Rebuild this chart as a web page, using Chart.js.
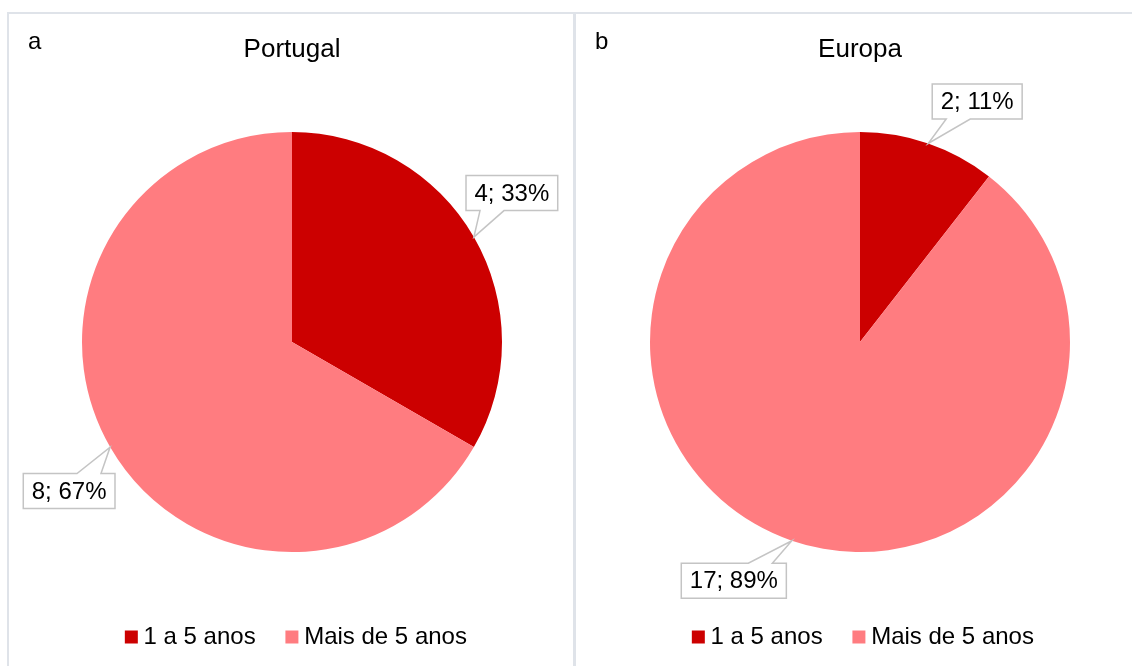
<!DOCTYPE html>
<html>
<head>
<meta charset="utf-8">
<script src="https://cdn.jsdelivr.net/npm/chart.js@4.4.1/dist/chart.umd.min.js"></script>
<style>
  html,body{margin:0;padding:0;background:#fff;width:1132px;height:666px;overflow:hidden;}
  .line{position:absolute;background:#dfe3e9;}
  .panel{position:absolute;top:14px;height:652px;}
</style>
</head>
<body>
<div class="line" style="left:7px;top:12px;width:1125px;height:2px"></div>
<div class="line" style="left:7px;top:12px;width:2px;height:654px"></div>
<div class="line" style="left:573px;top:12px;width:3px;height:654px"></div>
<div class="panel" style="left:9px;width:564px"><canvas id="chartA" width="564" height="652"></canvas></div>
<div class="panel" style="left:576px;width:556px"><canvas id="chartB" width="556" height="652"></canvas></div>
<script>
// ── data ──────────────────────────────────────────────
const categories   = ['1 a 5 anos', 'Mais de 5 anos'];
const portugalVals = [4, 8];
const europaVals   = [2, 17];
const sliceColors  = ['#cc0000', '#ff7c80'];

const FONT = 'Liberation Sans, Arial, Helvetica, sans-serif';

// callout labels "n; p%" with a pointer to the rim
const calloutPlug = {
  id:'callouts',
  afterLayout(chart, args, opts) {
    // legend sits a few px right of the pie centre in the original
    const lg = chart.legend;
    if (lg && opts.legendShift) { lg.left += opts.legendShift; lg.right += opts.legendShift; }
  },
  afterDatasetsDraw(chart, args, opts) {
    const ctx  = chart.ctx;
    const meta = chart.getDatasetMeta(0);
    const vals = chart.data.datasets[0].data;
    const tot  = vals.reduce((a,b)=>a+b,0);
    ctx.save();
    ctx.font = '24px ' + FONT;
    meta.data.forEach((arc, i) => {
      const p = arc.getProps(['x','y','startAngle','endAngle','outerRadius'], true);
      const mid = (p.startAngle + p.endAngle) / 2;
      const tx = p.x + p.outerRadius * Math.cos(mid);
      const ty = p.y + p.outerRadius * Math.sin(mid);
      const label = vals[i] + '; ' + Math.round(vals[i] / tot * 100) + '%';
      const w = ctx.measureText(label).width + 17, h = 35;
      const off = opts.offsets[i];
      const bx = tx + off[0] - w/2, by = ty + off[1] - h/2;
      const above = by + h < ty;
      const nearLeft = tx < bx + w/2;
      const b0 = nearLeft ? bx + 14 : bx + w - 38;
      const b1 = b0 + 24;
      ctx.beginPath();
      ctx.moveTo(bx, by);
      if (!above) { ctx.lineTo(b0, by); ctx.lineTo(tx, ty); ctx.lineTo(b1, by); }
      ctx.lineTo(bx + w, by);
      ctx.lineTo(bx + w, by + h);
      if (above) { ctx.lineTo(b1, by + h); ctx.lineTo(tx, ty); ctx.lineTo(b0, by + h); }
      ctx.lineTo(bx, by + h);
      ctx.closePath();
      ctx.fillStyle = '#fff';
      ctx.fill();
      ctx.lineWidth = 1.5;
      ctx.strokeStyle = '#c4c4c4';
      ctx.stroke();
      ctx.fillStyle = '#000';
      ctx.textAlign = 'center';
      ctx.textBaseline = 'middle';
      ctx.fillText(label, bx + w/2, by + h/2 + 1);
    });
    // panel letter
    ctx.textAlign = 'left';
    ctx.fillText(opts.letter, 19, 28);
    ctx.restore();
  }
};

function makePie(id, title, letter, values, padL, padR, offsets, legendShift) {
  return new Chart(document.getElementById(id), {
    type:'pie',
    plugins:[calloutPlug],
    data:{
      labels:categories,
      datasets:[{data:values, backgroundColor:sliceColors, borderWidth:0, hoverOffset:0}]
    },
    options:{
      responsive:false, animation:false, events:[],
      layout:{padding:{left:padL, right:padR, top:0, bottom:7}},
      plugins:{
        title:{display:true, text:title, color:'#000',
               font:{family:FONT, size:26, weight:'normal'},
               padding:{top:20, bottom:30}},
        legend:{position:'bottom',
                labels:{color:'#000', font:{family:FONT, size:24},
                        usePointStyle:true, pointStyle:'rect',
                        boxWidth:0.5, boxHeight:13, padding:36}},
        tooltip:{enabled:false},
        callouts:{letter:letter, offsets:offsets, legendShift:legendShift}
      }
    }
  });
}

makePie('chartA', 'Portugal', 'a', portugalVals, 73, 71, [[38,-44],[-41,44]], 7);
makePie('chartB', 'Europa',   'b', europaVals,   74, 62, [[49,-42],[-58,40]], 6);
</script>
</body>
</html>
